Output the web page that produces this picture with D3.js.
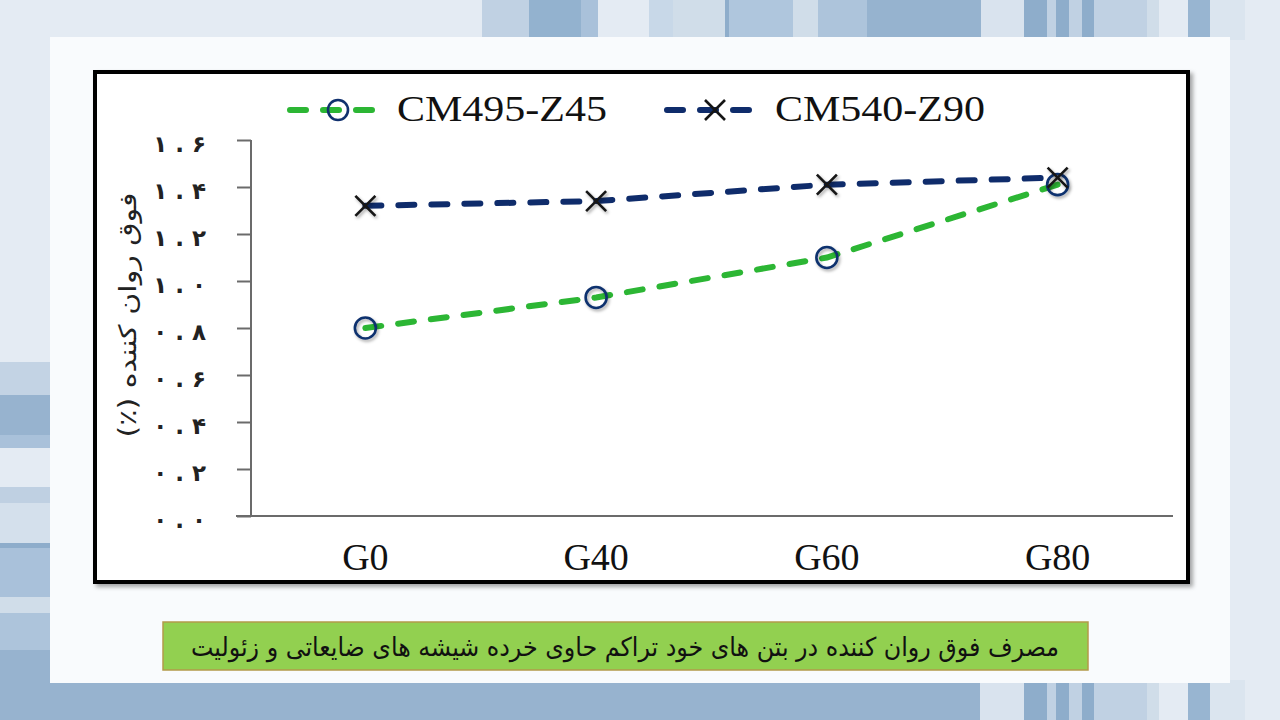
<!DOCTYPE html>
<html><head><meta charset="utf-8">
<script src="https://cdn.jsdelivr.net/npm/d3@7"></script>
<style>
html,body{margin:0;padding:0;background:#e4ebf3;overflow:hidden}
svg{display:block}
</style></head>
<body>
<svg id="c" width="1280" height="720"></svg>
<script>
// ---- data ----
const categories = ["G0", "G40", "G60", "G80"];
const seriesNames = ["CM495-Z45", "CM540-Z90"];
const cm495 = [0.80, 0.93, 1.10, 1.41];
const cm540 = [1.32, 1.34, 1.41, 1.44];
const yTicks = [0, 0.2, 0.4, 0.6, 0.8, 1.0, 1.2, 1.4, 1.6];
const yTickLabels = ["۰.۰", "۰.۲", "۰.۴", "۰.۶", "۰.۸", "۱.۰", "۱.۲", "۱.۴", "۱.۶"];
const yTitle = "فوق روان کننده (٪)";
const caption = "مصرف فوق روان کننده در بتن های خود تراکم حاوی خرده شیشه های ضایعاتی و زئولیت";

// ---- decoration (slide background stripes) ----
const topStripes = [[482,529,"#c0d1e3"],[529,581,"#93b2cf"],[581,598,"#a9c1da"],[649,673,"#c8d8e8"],[673,725,"#d0dde9"],[725,729,"#8eadcb"],[729,793,"#afc6dd"],[793,818,"#d0dde9"],[818,867,"#adc4db"],[867,981,"#96b3cf"],[981,1024,"#d9e3ee"],[1024,1047,"#8eadcb"],[1047,1056,"#c0d1e3"],[1056,1069,"#8eadcb"],[1069,1082,"#c0d1e3"],[1082,1094,"#8eadcb"],[1094,1147,"#c0d1e3"],[1147,1159,"#d0dde9"],[1188,1210,"#98b5d1"],[1210,1245,"#dbe5ef"]];
const bottomStripes = [[0,980,"#97b3cf"],[980,1024,"#d9e3ee"],[1024,1047,"#8eadcb"],[1047,1056,"#c0d1e3"],[1056,1069,"#8eadcb"],[1069,1082,"#c0d1e3"],[1082,1094,"#8eadcb"],[1094,1147,"#c0d1e3"],[1147,1159,"#d0dde9"],[1188,1210,"#98b5d1"],[1210,1245,"#dbe5ef"]];
const leftStripes = [[362,395,"#c3d3e4"],[395,435,"#97b3cf"],[435,448,"#a9c1da"],[487,503,"#bfd0e2"],[503,543,"#d4e0ec"],[543,548,"#8eadcb"],[548,597,"#a9c1da"],[597,613,"#d0dde9"],[613,650,"#adc4db"],[650,720,"#97b3cf"]];

const svg = d3.select("#c");
const defs = svg.append("defs");
const sh = defs.append("filter").attr("id","sh").attr("x","-30%").attr("y","-30%").attr("width","160%").attr("height","160%");
sh.append("feDropShadow").attr("dx",1.5).attr("dy",2).attr("stdDeviation",1.5).attr("flood-color","#000").attr("flood-opacity",0.35);
const fsh = defs.append("filter").attr("id","fsh").attr("x","-5%").attr("y","-5%").attr("width","110%").attr("height","110%");
fsh.append("feDropShadow").attr("dx",3).attr("dy",3).attr("stdDeviation",2).attr("flood-color","#000").attr("flood-opacity",0.35);

svg.append("rect").attr("width",1280).attr("height",720).attr("fill","#e4ebf3");
svg.selectAll(".ts").data(topStripes).join("rect").attr("x",d=>d[0]).attr("y",0).attr("width",d=>d[1]-d[0]).attr("height",40).attr("fill",d=>d[2]);
svg.selectAll(".bs").data(bottomStripes).join("rect").attr("x",d=>d[0]).attr("y",680).attr("width",d=>d[1]-d[0]).attr("height",40).attr("fill",d=>d[2]);
svg.selectAll(".ls").data(leftStripes).join("rect").attr("x",0).attr("y",d=>d[0]).attr("width",52).attr("height",d=>d[1]-d[0]).attr("fill",d=>d[2]);

// white slide panel
svg.append("rect").attr("x",50).attr("y",37).attr("width",1180).attr("height",646).attr("fill","#f9fbfd");

// chart frame
svg.append("rect").attr("x",95).attr("y",72).attr("width",1093).attr("height",510)
  .attr("fill","#ffffff").attr("stroke","#000").attr("stroke-width",4).attr("filter","url(#fsh)");

// ---- scales ----
const x = d3.scaleBand().domain(categories).range([250, 1173]).padding(0);
const y = d3.scaleLinear().domain([0, 1.6]).range([516, 140]);
const cx = d => x(d) + x.bandwidth()/2;

// y axis
const yAxis = d3.axisLeft(y).tickValues(yTicks).tickSize(14)
  .tickFormat((d,i)=>yTickLabels[i].split("").join(" "));
const gy = svg.append("g").attr("transform","translate(251,0)").call(yAxis);
gy.select(".domain").attr("stroke","#6b6b6b").attr("stroke-width",2).attr("d","M0,"+y(1.6)+"V"+y(0));
gy.selectAll(".tick line").attr("stroke","#6b6b6b").attr("stroke-width",2);
gy.selectAll(".tick text").attr("x",-45).attr("dy","0.5em")
  .attr("font-family","DejaVu Sans, sans-serif").attr("font-size",23).attr("font-weight","bold")
  .attr("fill","#222");

// x axis
const xAxis = d3.axisBottom(x).tickSize(0).tickPadding(27);
const gx = svg.append("g").attr("transform","translate(0,516)").call(xAxis);
gx.select(".domain").attr("stroke","#6b6b6b").attr("stroke-width",2).attr("d","M236,0H1173");
gx.selectAll(".tick text").attr("font-family","Liberation Serif, Times New Roman, serif")
  .attr("font-size",38).attr("fill","#111");

// y title
svg.append("text").attr("transform","translate(136,315) rotate(-90)")
  .attr("text-anchor","middle").attr("direction","rtl")
  .attr("font-family","DejaVu Sans, sans-serif").attr("font-size",24).attr("fill","#222")
  .attr("textLength",245).attr("lengthAdjust","spacingAndGlyphs")
  .text(yTitle);

// ---- lines ----
const line = d3.line().x((d,i)=>cx(categories[i])).y(d=>y(d));
const greenC = "#2cb634", navyC = "#0f2c6b";
svg.append("path").datum(cm495).attr("d",line).attr("fill","none").attr("stroke",greenC)
  .attr("stroke-width",6).attr("stroke-dasharray","16,17").attr("stroke-linecap","round");
svg.append("path").datum(cm540).attr("d",line).attr("fill","none").attr("stroke",navyC)
  .attr("stroke-width",6).attr("stroke-dasharray","16,17").attr("stroke-linecap","round");

// markers
const xMark = s => `M${-s},${-s}L${s},${s}M${-s},${s}L${s},${-s}`;
svg.selectAll(".m1").data(cm495).join("circle")
  .attr("cx",(d,i)=>cx(categories[i])).attr("cy",d=>y(d)).attr("r",10.5)
  .attr("fill","none").attr("stroke","#10306e").attr("stroke-width",2.6).attr("filter","url(#sh)");
svg.selectAll(".m2").data(cm540).join("path")
  .attr("transform",(d,i)=>`translate(${cx(categories[i])},${y(d)})`).attr("d",xMark(10))
  .attr("fill","none").attr("stroke","#151515").attr("stroke-width",2.6).attr("filter","url(#sh)");

// ---- legend ----
const lg = svg.append("g");
const legendItems = [
  {name: seriesNames[0], color: greenC, x0: 290, x1: 378, mx: 338, marker: "circle", tx: 397},
  {name: seriesNames[1], color: navyC, x0: 667, x1: 752, mx: 715, marker: "x", tx: 775}
];
legendItems.forEach(it => {
  lg.append("line").attr("x1",it.x0).attr("x2",it.x1).attr("y1",110).attr("y2",110)
    .attr("stroke",it.color).attr("stroke-width",6).attr("stroke-dasharray","16,17").attr("stroke-linecap","round");
  if (it.marker === "circle") {
    lg.append("circle").attr("cx",it.mx).attr("cy",110).attr("r",10).attr("fill","none")
      .attr("stroke","#10306e").attr("stroke-width",2.6);
  } else {
    lg.append("path").attr("transform",`translate(${it.mx},110)`).attr("d",xMark(10))
      .attr("stroke","#151515").attr("stroke-width",2.6).attr("fill","none");
  }
  lg.append("text").attr("x",it.tx).attr("y",121).attr("font-family","Liberation Serif, Times New Roman, serif")
    .attr("font-size",36).attr("fill","#111").attr("textLength",210).attr("lengthAdjust","spacingAndGlyphs")
    .text(it.name);
});

// ---- caption ----
svg.append("rect").attr("x",163).attr("y",622).attr("width",925).attr("height",48)
  .attr("fill","#92d050").attr("stroke","#b39a4a").attr("stroke-width",1.5);
svg.append("text").attr("x",625).attr("y",656).attr("text-anchor","middle").attr("direction","rtl")
  .attr("font-family","DejaVu Sans, sans-serif").attr("font-size",26).attr("fill","#111")
  .attr("textLength",868).attr("lengthAdjust","spacingAndGlyphs")
  .text(caption);
</script>
</body></html>
